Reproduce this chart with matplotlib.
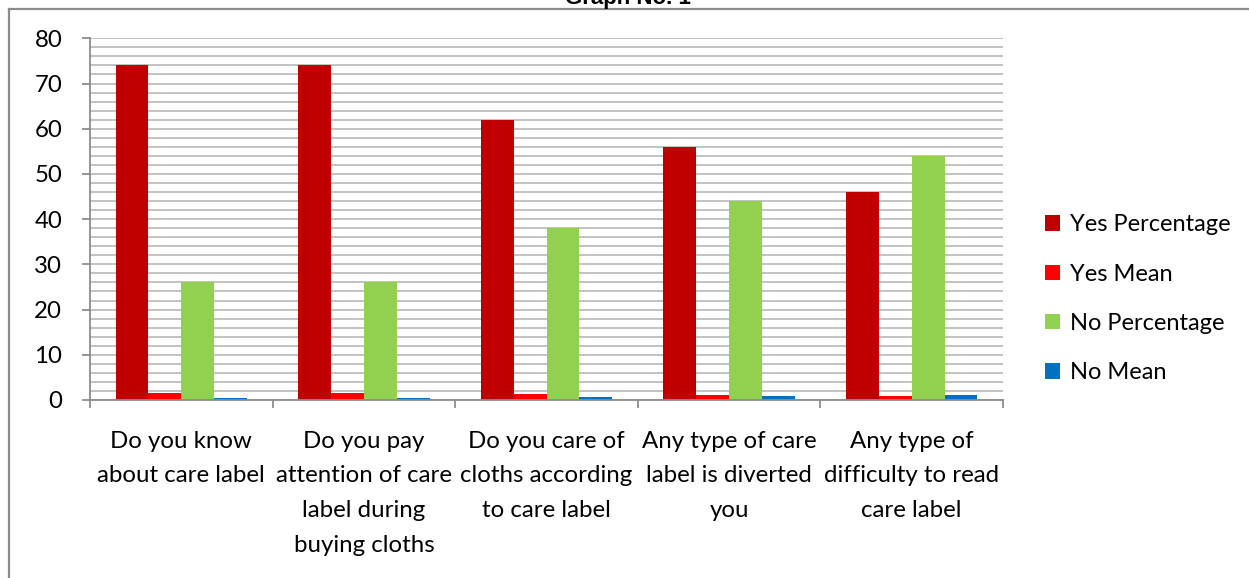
import matplotlib
matplotlib.use("Agg")
import matplotlib.pyplot as plt
import numpy as np
from matplotlib.patches import Patch
from matplotlib.lines import Line2D

categories = [
    "Do you know\nabout care label",
    "Do you pay\nattention of care\nlabel during\nbuying cloths",
    "Do you care of\ncloths according\nto care label",
    "Any type of care\nlabel is diverted\nyou",
    "Any type of\ndifficulty to read\ncare label",
]
series_names = ["Yes Percentage", "Yes Mean", "No Percentage", "No Mean"]
yes_pct = [74, 74, 62, 56, 46]
yes_mean = [1.48, 1.48, 1.24, 1.12, 0.92]
no_pct = [26, 26, 38, 44, 54]
no_mean = [0.52, 0.52, 0.76, 0.88, 1.08]
colors = ["#C00000", "#FF0000", "#92D050", "#0070C0"]
title = "Graph No. 1"

W, H = 1249, 578
fig = plt.figure(figsize=(W / 100, H / 100), dpi=100)
font = "Lato"
fs = 17.3

def fx(px):
    return px / W

def fy(py):
    return 1 - py / H

# outer frame
fig.add_artist(Line2D([fx(9), fx(9)], [fy(9), -0.1], color="#8c8c8c", lw=1.6, transform=fig.transFigure))
fig.add_artist(Line2D([fx(9), 1.1], [fy(9), fy(9)], color="#8c8c8c", lw=1.6, transform=fig.transFigure))

fig.text(fx(628), fy(4), title, ha="center", va="baseline", fontsize=16,
         fontweight="bold", family="Liberation Sans")

ax = fig.add_axes([fx(90), fy(400), fx(1003) - fx(90), fy(38.3) - fy(400)])

x = np.arange(len(categories))
bw = 0.18
data = [yes_pct, yes_mean, no_pct, no_mean]
for i, (vals, c) in enumerate(zip(data, colors)):
    ax.bar(x + (i - 1.5) * bw, vals, width=bw, color=c, zorder=3, linewidth=0)

ax.set_xlim(-0.5, len(categories) - 0.5)
ax.set_ylim(0, 80)
ax.set_yticks(np.arange(0, 81, 10))
ax.set_yticks(np.arange(0, 81, 2), minor=True)
ax.yaxis.grid(True, which="both", color="#bdbdbd", lw=1.3, zorder=0)
ax.set_xticks(np.arange(-0.5, len(categories), 1.0))
ax.set_xticklabels([])
ax.set_xticks(x, minor=True)
ax.set_xticklabels(categories, minor=True, fontsize=fs, family=font, linespacing=1.82)
ax.tick_params(axis="x", which="minor", length=0, pad=22)
ax.tick_params(axis="x", which="major", length=6, color="#8c8c8c", width=1.3, direction="out")
ax.tick_params(axis="y", which="major", length=6, color="#8c8c8c", width=1.3, labelsize=fs, pad=14)
ax.tick_params(axis="y", which="minor", length=0)
for t in ax.get_yticklabels():
    t.set_family(font)
for s in ["top", "right"]:
    ax.spines[s].set_visible(False)
for s in ["left", "bottom"]:
    ax.spines[s].set_color("#8c8c8c")
    ax.spines[s].set_linewidth(1.3)
    ax.spines[s].set_zorder(4)

handles = [Patch(facecolor=c, edgecolor="none") for c in colors]
fig.legend(handles, series_names, loc="upper left", bbox_to_anchor=(fx(1036), fy(205)),
           frameon=False, prop={"family": font, "size": 17}, handlelength=0.62,
           handleheight=0.62, handletextpad=0.4, labelspacing=1.2, borderaxespad=0)

fig.savefig("out.png", dpi=100)
